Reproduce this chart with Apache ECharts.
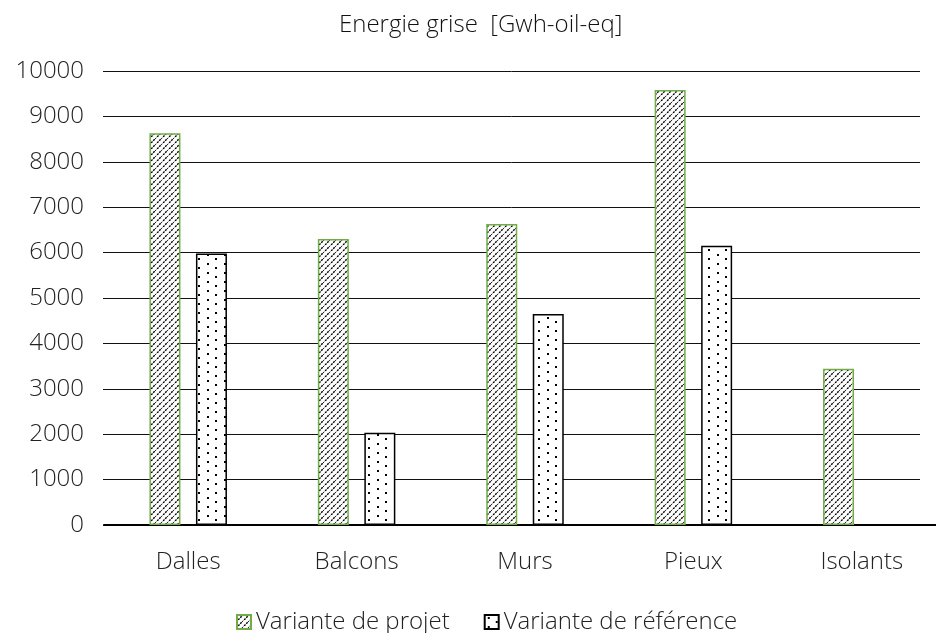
<!DOCTYPE html>
<html>
<head>
<meta charset="utf-8">
<script src="https://cdn.jsdelivr.net/npm/echarts@6/dist/echarts.min.js"></script>
<style>html,body{margin:0;padding:0;background:#fff;overflow:hidden;}#c{width:946px;height:633px;}</style>
</head>
<body>
<div id="c"></div>
<script>
const categories = ['Dalles', 'Balcons', 'Murs', 'Pieux', 'Isolants'];
const projet = [8630, 6300, 6630, 9580, 3440];
const reference = [5980, 2030, 4650, 6150, null];
const seriesNames = ['Variante de projet', 'Variante de référence'];
const yTicks = { min: 0, max: 10000, interval: 1000 };

function hatch() {
  const c = document.createElement('canvas');
  c.width = 6; c.height = 6;
  const g = c.getContext('2d');
  g.fillStyle = '#fff'; g.fillRect(0, 0, 6, 6);
  g.strokeStyle = '#000'; g.lineWidth = 1.4;
  g.setLineDash([2, 1]);
  g.beginPath();
  g.moveTo(-1, 7); g.lineTo(7, -1);
  g.moveTo(-4, 4); g.lineTo(4, -4);
  g.moveTo(2, 10); g.lineTo(10, 2);
  g.stroke();
  return c;
}
function dots() {
  const c = document.createElement('canvas');
  c.width = 17; c.height = 9;
  const g = c.getContext('2d');
  g.fillStyle = '#fff'; g.fillRect(0, 0, 17, 9);
  g.fillStyle = '#000';
  g.fillRect(3, 2, 2, 2);
  g.fillRect(11, 6, 2, 2);
  return c;
}

const chart = echarts.init(document.getElementById('c'), null, { renderer: 'canvas' });
const font = "'Open Sans', 'Noto Sans', sans-serif";
const txt = '#222';
const fs = 24;
chart.setOption({
  animation: false,
  textStyle: { fontFamily: font },
  title: {
    text: 'Energie grise  [Gwh-oil-eq]',
    left: 334, top: 8,
    textStyle: { fontSize: fs, fontWeight: 300, color: '#111', fontFamily: font }
  },
  legend: {
    data: seriesNames,
    top: 605, left: 231,
    icon: 'rect', itemWidth: 14, itemHeight: 14, itemGap: 34,
    textStyle: { fontSize: fs, fontWeight: 300, color: txt, fontFamily: font }
  },
  grid: [
    { left: 104, right: 0, top: 71, bottom: 108, containLabel: false },
    { left: 103, right: 26, top: 71, bottom: 108, containLabel: false }
  ],
  xAxis: [
    {
      type: 'category', data: categories, gridIndex: 0,
      axisLine: { lineStyle: { color: '#000', width: 2 } },
      axisTick: { show: false },
      axisLabel: { fontSize: fs, fontWeight: 300, color: txt, margin: 25, fontFamily: font }
    },
    { type: 'category', gridIndex: 1, data: categories, show: false }
  ],
  yAxis: [
    {
      type: 'value', gridIndex: 0, min: yTicks.min, max: yTicks.max, interval: yTicks.interval,
      axisLabel: { show: false }, splitLine: { show: false }, axisLine: { show: false }, axisTick: { show: false }
    },
    {
      type: 'value', gridIndex: 1, min: yTicks.min, max: yTicks.max, interval: yTicks.interval,
      axisLabel: { fontSize: fs, fontWeight: 300, color: txt, margin: 19, fontFamily: font, formatter: v => String(v) },
      splitLine: { lineStyle: { color: '#111', width: 1 } },
      axisLine: { show: false }, axisTick: { show: false }
    }
  ],
  series: [
    {
      name: seriesNames[0], type: 'bar', data: projet, xAxisIndex: 0, yAxisIndex: 0,
      barWidth: 31, barGap: '50%',
      itemStyle: { color: { image: hatch(), repeat: 'repeat' }, borderColor: '#70AD47', borderWidth: 1.5 }
    },
    {
      name: seriesNames[1], type: 'bar', data: reference, xAxisIndex: 0, yAxisIndex: 0,
      barWidth: 31, barGap: '50%',
      itemStyle: { color: { image: dots(), repeat: 'repeat' }, borderColor: '#000', borderWidth: 1.5 }
    }
  ]
});
</script>
</body>
</html>
